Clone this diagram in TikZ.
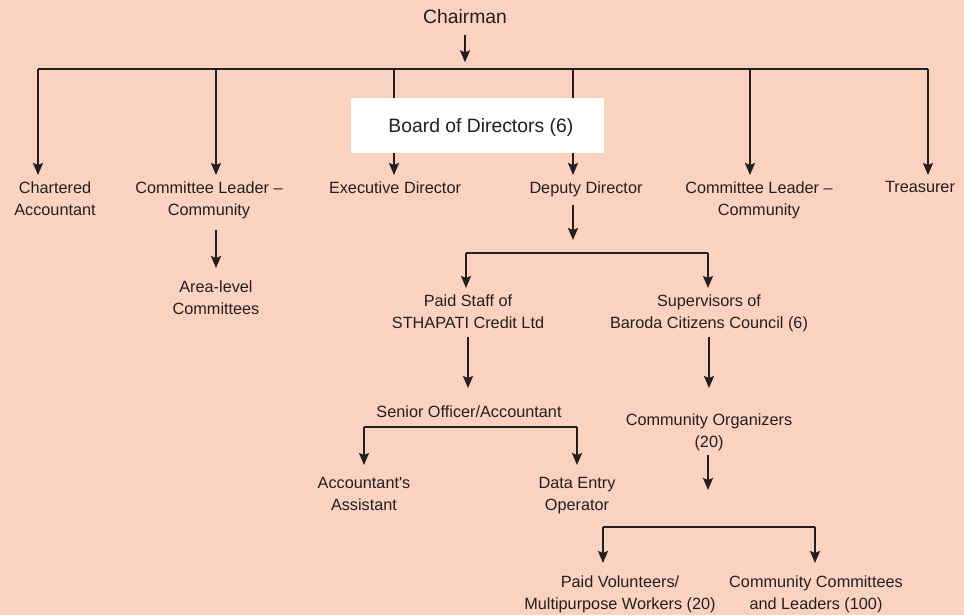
\documentclass[tikz,border=0pt]{standalone}
\usepackage{fontspec}
\setmainfont{Liberation Sans}
\usetikzlibrary{arrows.meta}
\definecolor{peach}{RGB}{251,210,192}
\definecolor{ink}{RGB}{35,31,32}

\begin{document}
\begin{tikzpicture}[x=0.75pt,y=-0.75pt,
  lbl/.style={align=center, text=ink, inner sep=0pt, anchor=north, font=\fontsize{12.2}{16.5}\selectfont},
  big/.style={align=center, text=ink, inner sep=0pt, font=\fontsize{14.5}{17}\selectfont},
  wire/.style={draw=ink, line width=1.2pt},
  arr/.style={wire, -{Stealth[length=9pt,width=7.5pt,inset=1.5pt]}, shorten >=4.5pt}]

\fill[peach] (0,0) rectangle (964,615);
\useasboundingbox (0,0) rectangle (964,615);

%%%%%%%%%%%%    top level   %%%%%%%%%%%%
\node[big] (chair) at (465,17) {Chairman};

\node[lbl] (ca)  at (55,181)  {Chartered\\Accountant};
\node[lbl] (cl1) at (209,181) {Committee Leader --\\Community};
\node[lbl] (ed)  at (395,181) {Executive Director};
\node[lbl] (dd)  at (586,181) {Deputy Director};
\node[lbl] (cl2) at (759,181) {Committee Leader --\\Community};
\node[lbl] (tr)  at (920,181) {Treasurer};

\coordinate (bus) at (465,69);
\draw[arr, shorten <=8pt, shorten >=5pt] (chair) -- (bus);
\draw[wire] (38,69) -- (928,69);
\foreach \x/\n in {38/ca,216/cl1,394/ed,573/dd,750/cl2,928/tr}
  \draw[arr] (\x,69) -- (\n.north -| \x,69);

% board sits over the lines
\node[big, fill=white, text depth=0pt, minimum width=189.75pt, minimum height=41.25pt] (board) at (477.5,125.5) {\hspace{5pt}Board of Directors (6)};

%%%%%%%%%%%%    community side   %%%%%%%%%%%%
\node[lbl] (alc) at (216,280) {Area-level\\Committees};
\draw[arr, shorten <=8.5pt, shorten >=9pt] (cl1.south -| alc) -- (alc);

%%%%%%%%%%%%    deputy director   %%%%%%%%%%%%
\coordinate (dj) at (573,240);
\draw[arr, shorten <=6.4pt, shorten >=0pt] (dd.south -| dj) -- (dj);

\node[lbl] (ps)  at (468,294) {Paid Staff of\\STHAPATI Credit Ltd};
\node[lbl] (sup) at (709,294) {Supervisors of\\Baroda Citizens Council (6)};
\coordinate (f1) at (466,253);
\coordinate (f2) at (708,253);
\draw[wire] (f1) -- (f2);
\draw[arr] (f1) -- (ps.north -| f1);
\draw[arr] (f2) -- (sup.north -| f2);

% paid staff branch
\node[lbl] (so) at (469,405) {Senior Officer/Accountant};
\draw[arr, shorten <=6.75pt, shorten >=12.75pt] (ps.south) -- (so.north -| ps);
\node[lbl] (aa) at (364,477) {Accountant\textquotesingle s\\Assistant};
\node[lbl] (de) at (577,477) {Data Entry\\Operator};
\coordinate (g1) at (364,427);
\coordinate (g2) at (577,427);
\draw[wire] (g1) -- (g2);
\draw[arr, shorten >=9pt] (g1) -- (aa.north -| g1);
\draw[arr, shorten >=9pt] (g2) -- (de.north -| g2);

% supervisors branch
\node[lbl] (co) at (709,413) {Community Organizers\\(20)};
\draw[arr, shorten <=4.2pt, shorten >=18.75pt] (sup.south -| co) -- (co);
\coordinate (cj) at (708,490);
\draw[arr, shorten <=3.5pt, shorten >=0pt] (co.south -| cj) -- (cj);

\node[lbl] (pv) at (620,575) {Paid Volunteers/\\Multipurpose Workers (20)};
\node[lbl] (cc) at (816,575) {Community Committees\\and Leaders (100)};
\coordinate (h1) at (603,527);
\coordinate (h2) at (815,527);
\draw[wire] (h1) -- (h2);
\draw[arr, shorten >=9pt] (h1) -- (pv.north -| h1);
\draw[arr, shorten >=9pt] (h2) -- (cc.north -| h2);

\end{tikzpicture}
\end{document}
